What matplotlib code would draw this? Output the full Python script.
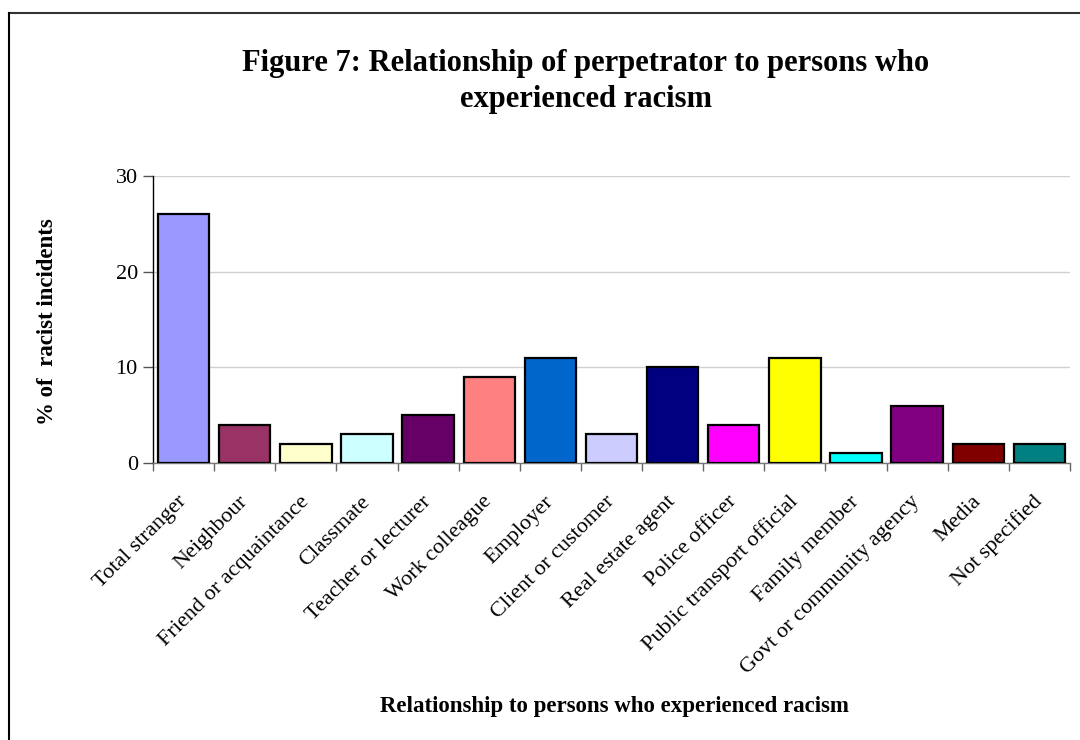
import numpy as np
import matplotlib.pyplot as plt
from matplotlib.lines import Line2D

plt.rcParams['font.family'] = ['Liberation Serif', 'DejaVu Serif']

categories = ['Total stranger', 'Neighbour', 'Friend or acquaintance', 'Classmate',
              'Teacher or lecturer', 'Work colleague', 'Employer', 'Client or customer',
              'Real estate agent', 'Police officer', 'Public transport official',
              'Family member', 'Govt or community agency', 'Media', 'Not specified']
values = [26, 4, 2, 3, 5, 9, 11, 3, 10, 4, 11, 1, 6, 2, 2]
colors = ['#9999FF', '#993366', '#FFFFCC', '#CCFFFF', '#660066', '#FF8080',
          '#0066CC', '#CCCCFF', '#000080', '#FF00FF', '#FFFF00', '#00FFFF',
          '#800080', '#800000', '#008080']
yticks = [0, 10, 20, 30]

fig = plt.figure(figsize=(10.8, 7.4), dpi=100)
ax = fig.add_axes([0.1417, 0.3743, 0.849, 0.3878])

x = np.arange(len(categories))
ax.bar(x, values, width=0.84, color=colors, edgecolor='black', linewidth=1.6, zorder=3)

ax.set_xlim(-0.5, len(categories) - 0.5)
ax.set_ylim(0, 30)
ax.set_yticks(yticks)
ax.yaxis.grid(True, color='#D0D0D0', linewidth=1.0, zorder=0)
ax.tick_params(axis='y', labelsize=16, length=7, width=1, color='#555555', pad=4)

# labels at centers, tick marks at category boundaries
ax.set_xticks(x)
ax.set_xticklabels(categories, rotation=45, ha='right', va='center',
                   rotation_mode='anchor', fontsize=16)
ax.tick_params(axis='x', which='major', length=0, pad=26)
ax.set_xticks(np.arange(len(categories) + 1) - 0.5, minor=True)
ax.tick_params(axis='x', which='minor', length=6, width=1, color='#666666')

for side in ['top', 'right']:
    ax.spines[side].set_visible(False)
ax.spines['left'].set_color('black')
ax.spines['left'].set_linewidth(1.0)
ax.spines['bottom'].set_color('#777777')
ax.spines['bottom'].set_linewidth(1.0)

fig.text(0.5426, 0.89, 'Figure 7: Relationship of perpetrator to persons who\nexperienced racism',
         ha='center', va='center', fontsize=22, fontweight='bold', linespacing=1.35)
fig.text(0.044, 0.565, '% of  racist incidents', rotation=90, ha='center', va='center',
         fontsize=16.5, fontweight='bold')
fig.text(0.569, 0.045, 'Relationship to persons who experienced racism', ha='center',
         va='center', fontsize=16.5, fontweight='bold')

# chart frame
fig.add_artist(Line2D([9 / 1080, 1.0], [1 - 13 / 740, 1 - 13 / 740],
                      transform=fig.transFigure, color='#333333', linewidth=1.5))
fig.add_artist(Line2D([9 / 1080, 9 / 1080], [0, 1 - 13 / 740],
                      transform=fig.transFigure, color='black', linewidth=1.5))

fig.savefig('out.png', dpi=100)
